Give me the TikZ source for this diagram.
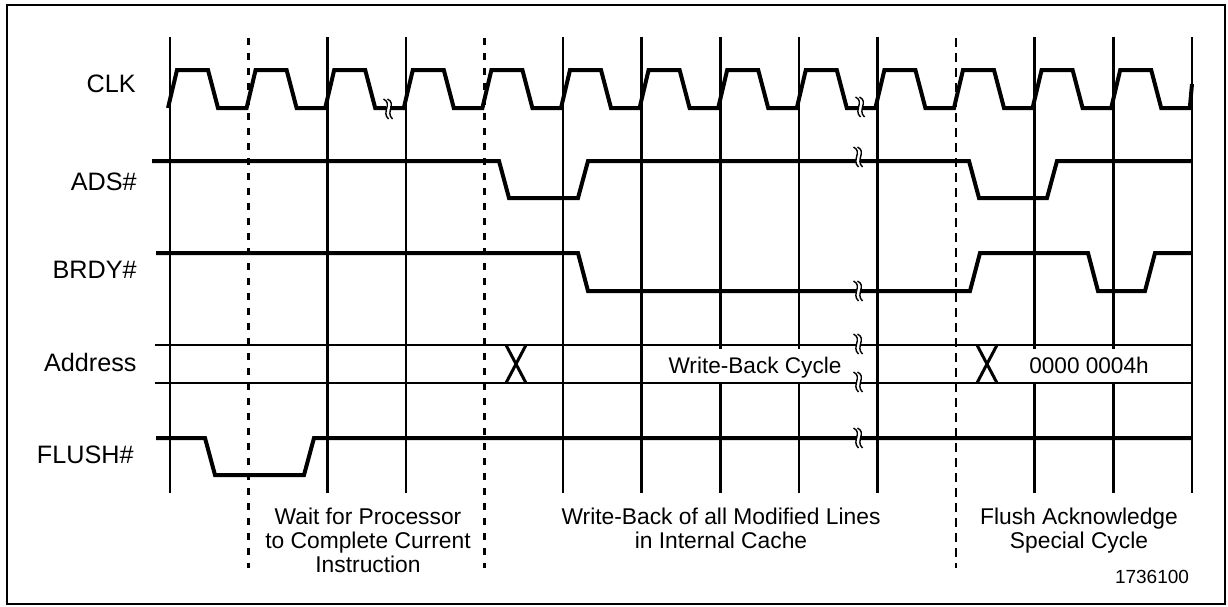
\documentclass[tikz,border=0pt]{standalone}
\usepackage{fontspec}
\setmainfont{Liberation Sans}
\newcommand\brksym[2]{%
  \fill[white] (#1-2,#2-7) rectangle (#1+2,#2+7);
  \draw[line width=0.7pt] (#1-4.5,#2-10) .. controls (#1+5,#2-5) and (#1-7,#2+3) .. (#1+0.5,#2+10);
  \draw[line width=0.7pt] (#1-0.5,#2-10) .. controls (#1+9,#2-5) and (#1-3,#2+3) .. (#1+4.5,#2+10);
}
\begin{document}
\begin{tikzpicture}[x=0.5pt,y=-0.5pt,
  grid/.style={line width=1.3pt},
  griddash/.style={line width=1.3pt,dash pattern=on 3.5pt off 4pt},
  griddashthin/.style={line width=0.9pt,dash pattern=on 4.5pt off 3pt},
  wave/.style={line width=2pt,line join=miter},
  bus/.style={line width=1.1pt},
  xmark/.style={line width=1.5pt},
  sig/.style={font=\fontsize{12.6}{14}\selectfont,anchor=east,inner sep=0pt,text height=9pt,text depth=0pt},
  phase/.style={font=\fontsize{11.4}{12}\selectfont,align=center,anchor=north,inner sep=0pt},
  bustext/.style={font=\fontsize{11.3}{12}\selectfont,fill=white,inner xsep=2pt,inner ysep=0pt,minimum height=16.5pt,text height=8.1pt,text depth=0pt},
]
\useasboundingbox (0,0) rectangle (1228,606);
\draw[line width=1pt] (7,5) rectangle (1225,604);
% grid lines
\foreach \k in {0,2,3,5,6,7,8,9,11,12,13}
  \draw[grid] ({170+78.6*\k},37) -- ({170+78.6*\k},493);
\foreach \k in {1,4}
  \draw[griddash] ({170+78.6*\k},38) -- ({170+78.6*\k},568);
\draw[griddashthin] (956,38) -- (956,568);
% labels
\node[sig] (clk) at (136,83) {CLK};
\node[sig] (ads) at (137,181) {ADS\#};
\node[sig] (brdy) at (137,269) {BRDY\#};
\node[sig] (addr) at (137,362) {Address};
\node[sig] (flush) at (134,454) {FLUSH\#};
% CLK
\draw[wave] (168,108) \foreach \k in {0,...,12} {
  -- ({170+78.6*\k+7},70) -- ({170+78.6*\k+38},70) -- ({170+78.6*\k+48},108) -- ({170+78.6*(\k+1)-2},108) }
  -- (1192,84);
% ADS#
\draw[wave] (152,161) -- (499,161) -- (509,198) -- (578,198) -- (588,161) -- (969,161) -- (979,198)
  -- (1047,198) -- (1057,161) -- (1192,161);
% BRDY#
\draw[wave] (156,253) -- (578,253) -- (588,291) -- (970,291) -- (980,253) -- (1088,253) -- (1098,291)
  -- (1145,291) -- (1155,253) -- (1192,253);
% Address
\draw[bus] (155,345) -- (1192,345);
\draw[bus] (155,383) -- (1192,383);
\draw[xmark] (506,345) -- (526,383) (526,345) -- (506,383);
\draw[xmark] (977,345) -- (997,383) (997,345) -- (977,383);
% FLUSH#
\draw[wave] (156,438) -- (205,438) -- (215,475) -- (304,475) -- (314,438) -- (1192,438);
% breaks
\brksym{388}{109}
\brksym{860}{107}
\brksym{858}{157}
\brksym{858}{291}
\brksym{858}{344}
\brksym{858}{382}
\brksym{858}{438}
% bus texts
\node[bustext] (wbc) at (755,365) {Write-Back Cycle};
\node[bustext] (adr4) at (1089,365) {0000 0004h};
% phase texts
\node[phase] (p1) at (368,507.5) {Wait for Processor\\to Complete Current\\Instruction};
\node[phase] (p2) at (721,507.5) {Write-Back of all Modified Lines\\in Internal Cache};
\node[phase] (p3) at (1079,507.5) {Flush Acknowledge\\Special Cycle};
\node[font=\fontsize{9.5}{11}\selectfont,inner sep=0pt] (fig) at (1152,577) {1736100};
\end{tikzpicture}
\end{document}
